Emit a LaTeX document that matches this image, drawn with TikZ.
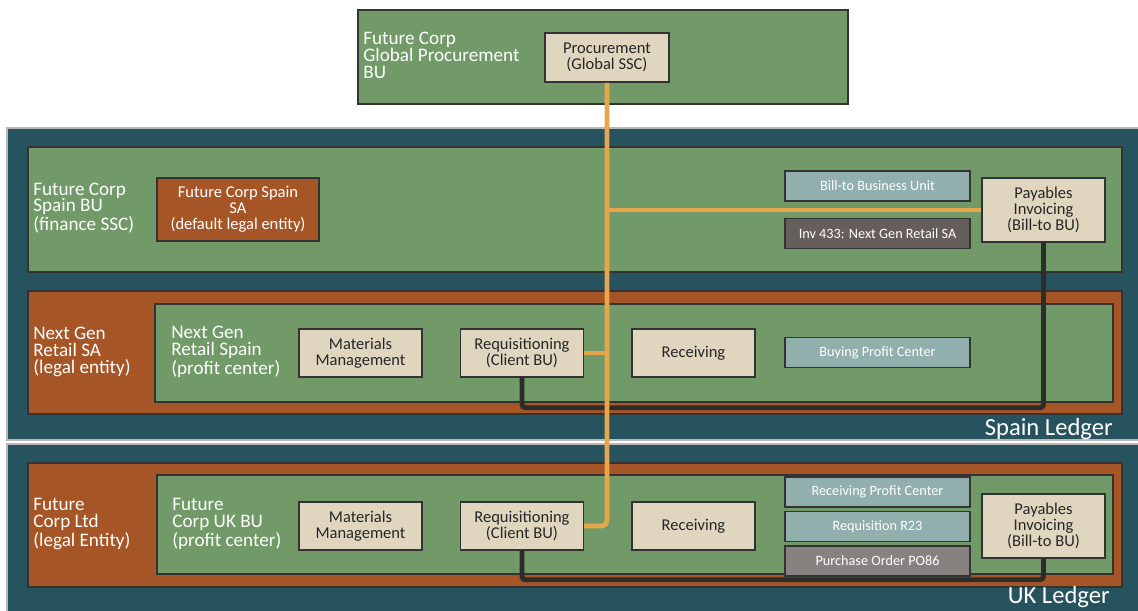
\documentclass[tikz,border=0pt]{standalone}
\usepackage{fontspec}
\setmainfont{Carlito}
\usepackage{tikz}
\usetikzlibrary{positioning, fit}

\definecolor{ledgerteal}{HTML}{27535F}
\definecolor{bugreen}{HTML}{729A68}
\definecolor{entityrust}{HTML}{A65527}
\definecolor{taskbeige}{HTML}{E0D6BF}
\definecolor{infoslate}{HTML}{91AFAD}
\definecolor{invdark}{HTML}{655E5A}
\definecolor{pogray}{HTML}{878280}
\definecolor{procorange}{HTML}{E6A64C}
\definecolor{paydark}{HTML}{2C2D28}

\begin{document}
\begin{tikzpicture}[
    x=0.02cm, y=-0.02cm,
    ledger/.style={rectangle, draw=gray!55, line width=1pt, fill=ledgerteal, inner sep=0pt},
    bu/.style={rectangle, draw=black!80, line width=0.6pt, fill=bugreen, inner sep=0pt},
    entity/.style={rectangle, draw=black!80, line width=0.6pt, fill=entityrust, inner sep=0pt},
    buname/.style={anchor=west, align=left, text=white, inner sep=0pt, font=\fontsize{10.9}{9.6}\selectfont},
    task/.style={rectangle, draw=black!80, line width=0.85pt, fill=taskbeige, text=black!85, align=center, minimum width=2.46cm, minimum height=0.96cm, inner sep=1pt, font=\fontsize{9.4}{9.1}\selectfont},
    info/.style={rectangle, draw=black!80, line width=0.85pt, fill=infoslate, text=white, minimum width=3.7cm, minimum height=0.6cm, inner sep=0pt, font=\fontsize{8.1}{9}\selectfont},
    procline/.style={procorange, line width=2.8pt, rounded corners=3pt},
    payline/.style={paydark, line width=2.8pt, rounded corners=2pt},
    ledgername/.style={anchor=base east, text=white, inner sep=0pt, font=\fontsize{14}{16}\selectfont}
]
\useasboundingbox (0,0) rectangle (1138,610);

% Global Procurement BU
\node[bu, fit={(358,10) (848,104)}] (global_bu) {};
\node[buname] (global_bu_label) at (363,55) {Future Corp\\Global Procurement\\BU};
\node[task, minimum width=2.48cm, minimum height=0.98cm] (procurement) at (607,57.5) {Procurement\\(Global SSC)};

% Spain Ledger
\node[ledger, fit={(7,128) (1145,440)}] (spain_ledger) {};
\node[bu, fit={(28,147) (1122,272)}] (spain_bu) {};
\node[buname] (spain_bu_label) at (33,208) {Future Corp\\Spain BU\\(finance SSC)};
\node[task, fill=entityrust, text=white, minimum width=3.24cm, minimum height=1.26cm] (spain_sa) at (238,209.5) {Future Corp Spain\\SA\\(default legal entity)};
\node[info] (billto_bu) at (877.5,186) {Bill-to Business Unit};
\node[info, fill=invdark] (inv_433) at (877.5,233.5) {Inv 433: Next Gen Retail SA};
\node[task, minimum height=1.28cm] (pay_spain) at (1043.5,210) {Payables\\Invoicing\\(Bill-to BU)};

\node[entity, fit={(28,291) (1122,414)}] (nextgen_sa) {};
\node[buname] (nextgen_sa_label) at (33,352) {Next Gen\\Retail SA\\(legal entity)};
\node[bu, fit={(155,304) (1113,402)}] (nextgen_pc) {};
\node[buname] (nextgen_pc_label) at (171,352) {Next Gen\\Retail Spain\\(profit center)};
\node[task] (mat_spain) at (360.5,353) {Materials\\Management};
\node[task, right=0.74cm of mat_spain] (req_spain) {Requisitioning\\(Client BU)};
\node[task, right=0.94cm of req_spain] (rcv_spain) {Receiving};
\node[info] (buying_pc) at (877.5,352.5) {Buying Profit Center};
\node[ledgername] (spain_name) at (1113,435) {Spain Ledger};

% UK Ledger
\node[ledger, fit={(7,444) (1145,620)}] (uk_ledger) {};
\node[entity, fit={(28,463) (1122,587)}] (uk_ltd) {};
\node[buname] (uk_ltd_label) at (33,524) {Future\\Corp Ltd\\(legal Entity)};
\node[bu, fit={(157,475) (1113,574)}] (uk_pc) {};
\node[buname] (uk_pc_label) at (172,524) {Future\\Corp UK BU\\(profit center)};
\node[task] (mat_uk) at (360.5,526) {Materials\\Management};
\node[task, right=0.74cm of mat_uk] (req_uk) {Requisitioning\\(Client BU)};
\node[task, right=0.94cm of req_uk] (rcv_uk) {Receiving};
\node[info] (rcv_pc) at (877.5,492) {Receiving Profit Center};
\node[info, below=0.06cm of rcv_pc] (req_r23) {Requisition R23};
\node[info, fill=pogray, below=0.06cm of req_r23] (po_86) {Purchase Order PO86};
\node[task, minimum height=1.28cm] (pay_uk) at (1043.5,526) {Payables\\Invoicing\\(Bill-to BU)};
\node[ledgername] (uk_name) at (1110,603) {UK Ledger};

% Invoicing links
\draw[payline] (req_spain.south) -- ++(0,30) -| (pay_spain.south);
\draw[payline] (req_uk.south) -- ++(0,29) -| (pay_uk.south);

% Procurement links
\draw[procline] (procurement.south) -- (procurement.south |- req_uk.east) -- (req_uk.east);
\draw[procline] (procurement.south |- pay_spain.west) -- (pay_spain.west);
\draw[procline] (req_spain.east) -- (procurement.south |- req_spain.east);

\end{tikzpicture}
\end{document}
